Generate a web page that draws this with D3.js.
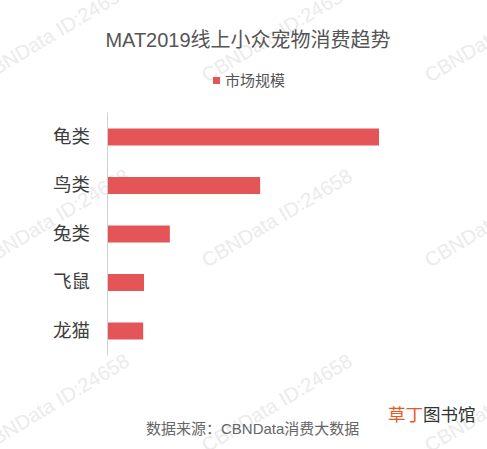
<!DOCTYPE html>
<html><head><meta charset="utf-8">
<script src="https://cdn.jsdelivr.net/npm/d3@7"></script>
<style>html,body{margin:0;padding:0;background:#fff;}svg{display:block;font-family:"Liberation Sans","Noto Sans CJK SC",sans-serif;}</style>
</head><body>
<script>
const categories = ["龟类","鸟类","兔类","飞鼠","龙猫"];
const values = [100, 56.3, 23.1, 13.6, 13.3];
const seriesName = "市场规模";
const title = "MAT2019线上小众宠物消费趋势";
const source = "数据来源：CBNData消费大数据";
const watermark = "CBNData ID:24658";

const W = 487, H = 449;
const svg = d3.select("body").append("svg").attr("width", W).attr("height", H);

// watermarks
const wmG = svg.append("g");
const wmCols = [-16, 207, 430], wmRows = [83, 268, 453];
wmRows.forEach(ry => wmCols.forEach(cx => {
  wmG.append("text").attr("transform", `translate(${cx},${ry}) rotate(-31)`)
    .attr("font-size", 20).attr("fill", "#ebebeb")
    .text(watermark);
}));

// title
svg.append("text").attr("x", 248).attr("y", 47).attr("text-anchor", "middle")
  .attr("font-size", 20).attr("fill", "#555").text(title);

// legend
svg.append("rect").attr("x", 213).attr("y", 77).attr("width", 7).attr("height", 7).attr("fill", "#e35557");
svg.append("text").attr("x", 225).attr("y", 80.5).attr("dominant-baseline", "central")
  .attr("font-size", 15).attr("fill", "#555").text(seriesName);

const x = d3.scaleLinear().domain([0, 100]).range([107, 379]);
const y = d3.scaleBand().domain(categories).range([112.75, 355.25]).paddingInner(0.65).paddingOuter(0.325);

svg.append("g").selectAll("rect").data(categories).join("rect")
  .attr("x", x(0) + 1).attr("y", d => y(d)).attr("height", y.bandwidth())
  .attr("width", (d, i) => x(values[i]) - x(0) - 1).attr("fill", "#e35557");

const axis = d3.axisLeft(y).tickSize(0).tickPadding(17);
const ag = svg.append("g").attr("transform", `translate(${x(0)},0)`).call(axis);
ag.select(".domain").attr("stroke", "#d0d0d0").attr("d", `M0.5,112.75V355.25`);
ag.selectAll("text").attr("font-size", 18.5).attr("fill", "#3d3d3d")
  .attr("font-family", "Noto Sans CJK SC, sans-serif");

// source
svg.append("text").attr("x", 146).attr("y", 428).attr("dominant-baseline", "central")
  .attr("font-size", 15).attr("fill", "#666").text(source);

const logo = svg.append("text").attr("x", 388).attr("y", 412.5).attr("dominant-baseline", "central")
  .attr("font-size", 17.5).attr("font-family", "Noto Sans CJK SC, sans-serif");
logo.append("tspan").attr("fill", "#e8591f").text("草丁");
logo.append("tspan").attr("fill", "#333").text("图书馆");
</script>
</body></html>
